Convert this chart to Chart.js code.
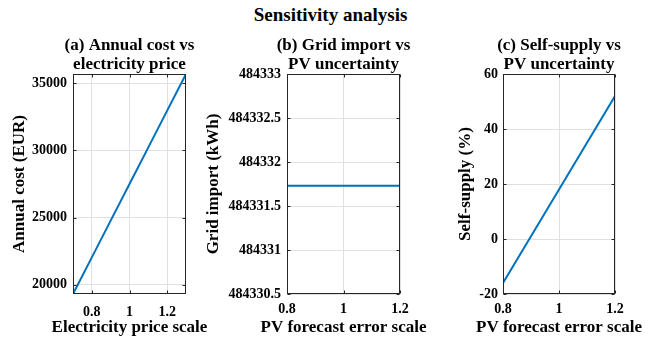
<!DOCTYPE html>
<html>
<head>
<meta charset="utf-8">
<title>Sensitivity analysis</title>
<script src="https://cdn.jsdelivr.net/npm/chart.js@4.4.1/dist/chart.umd.min.js"></script>
<style>
  html, body { margin: 0; padding: 0; background: #fff; overflow: hidden; }
  #page { position: relative; width: 649px; height: 343px; overflow: hidden; }
  #mainTitle {
    position: absolute; left: 6px; top: 5px; width: 649px;
    text-align: center; font-family: 'Liberation Serif', 'Times New Roman', serif;
    font-weight: bold; font-size: 19px; line-height: 19px;
  }
  .panel { position: absolute; }
</style>
</head>
<body>
<div id="page">
  <div id="mainTitle">Sensitivity analysis</div>
  <div class="panel" style="left:0px;top:34px;width:259px;height:309px"><canvas id="chartA"></canvas></div>
  <div class="panel" style="left:200px;top:34px;width:287px;height:309px"><canvas id="chartB"></canvas></div>
  <div class="panel" style="left:440px;top:34px;width:238px;height:309px"><canvas id="chartC"></canvas></div>
</div>
<script>
// (a) annual cost vs electricity price scale
const priceScale = [0.7, 0.8, 0.9, 1.0, 1.1, 1.2, 1.3];
const annualCost = [19310, 22040, 24770, 27500, 30230, 32960, 35690];
const costTicks = [20000, 25000, 30000, 35000];
const priceTicks = [0.8, 1, 1.2];

// (b) grid import vs PV forecast error scale
const pvScale = [0.8, 0.9, 1.0, 1.1, 1.2];
const gridImport = [484331.73, 484331.73, 484331.73, 484331.73, 484331.73];
const importTicks = [484330.5, 484331, 484331.5, 484332, 484332.5, 484333];

// (c) self-supply vs PV forecast error scale
const selfSupply = [-16, 1, 18, 35, 52];
const supplyTicks = [-20, 0, 20, 40, 60];
const pvTicks = [0.8, 1, 1.2];

const lineColor = '#0072BD';
const gridColor = '#e0e0e0';
const axisColor = '#262626';
const serif = "'Liberation Serif', 'Times New Roman', serif";

Chart.defaults.font.family = serif;
Chart.defaults.font.weight = 'bold';
Chart.defaults.color = '#000';

// MATLAB style box with small inward ticks
const boxPlugin = {
    id: 'box',
    afterDraw(chart) {
        const ctx = chart.ctx;
        const a = chart.chartArea;
        const l = Math.round(a.left) + 0.5, r = Math.round(a.right) - 0.5;
        const t = Math.round(a.top) + 0.5, b = Math.round(a.bottom) - 0.5;
        ctx.save();
        ctx.strokeStyle = axisColor;
        ctx.lineWidth = 1;
        ctx.strokeRect(l, t, r - l, b - t);
        ctx.beginPath();
        chart.scales.x.ticks.forEach(tk => {
            const px = Math.round(chart.scales.x.getPixelForValue(tk.value)) + 0.5;
            ctx.moveTo(px, b); ctx.lineTo(px, b - 3);
            ctx.moveTo(px, t); ctx.lineTo(px, t + 3);
        });
        chart.scales.y.ticks.forEach(tk => {
            const py = Math.round(chart.scales.y.getPixelForValue(tk.value)) + 0.5;
            ctx.moveTo(l, py); ctx.lineTo(l + 3, py);
            ctx.moveTo(r, py); ctx.lineTo(r - 3, py);
        });
        ctx.stroke();
        ctx.restore();
    }
};

function makePanel(id, cfg) {
    return new Chart(document.getElementById(id), {
        type: 'line',
        data: {
            datasets: [{
                data: cfg.xs.map((x, i) => ({ x: x, y: cfg.ys[i] })),
                borderColor: lineColor,
                borderWidth: 2,
                pointRadius: 0,
                tension: 0,
                fill: false
            }]
        },
        options: {
            responsive: true,
            maintainAspectRatio: false,
            animation: false,
            devicePixelRatio: 1,
            layout: { padding: 0 },
            plugins: {
                legend: { display: false },
                tooltip: { enabled: false },
                title: {
                    display: true,
                    text: cfg.title,
                    font: { size: 17, weight: 'bold', lineHeight: 19 / 17 },
                    padding: { top: 2, bottom: 0 },
                    color: '#000'
                },
                // x axis label drawn as a bottom subtitle so it is not squeezed to the plot width
                subtitle: {
                    display: true,
                    position: 'bottom',
                    text: cfg.xLabel,
                    font: { size: 17, weight: 'bold', lineHeight: 1.2 },
                    padding: { top: 0, bottom: 5 },
                    color: '#000'
                }
            },
            scales: {
                x: {
                    type: 'linear',
                    bounds: 'data',
                    min: cfg.xMin,
                    max: cfg.xMax,
                    afterBuildTicks: s => { s.ticks = cfg.xTicks.map(v => ({ value: v })); },
                    // right padding keeps the canvas centred on the plot so the titles line up
                    afterFit: s => { s.height = 23.6; s.paddingLeft = 0; s.paddingRight = cfg.padRight; },
                    ticks: {
                        padding: cfg.xTickPad,
                        font: { size: 14, weight: 'bold' },
                        maxRotation: 0,
                        autoSkip: false,
                        callback: v => String(v)
                    },
                    grid: { color: gridColor, drawTicks: false },
                    border: { display: false }
                },
                y: {
                    type: 'linear',
                    bounds: 'data',
                    min: cfg.yMin,
                    max: cfg.yMax,
                    afterBuildTicks: s => { s.ticks = cfg.yTicks.map(v => ({ value: v })); },
                    afterFit: s => { s.width = cfg.yWidth; s.paddingTop = 0; s.paddingBottom = 0; },
                    ticks: {
                        padding: cfg.yTickPad,
                        font: { size: 14, weight: 'bold' },
                        autoSkip: false,
                        callback: v => String(v)
                    },
                    grid: { color: gridColor, drawTicks: false },
                    border: { display: false },
                    title: {
                        display: true,
                        text: cfg.yLabel,
                        font: { size: 17, weight: 'bold' },
                        padding: { top: cfg.yTitlePad, bottom: 0 }
                    }
                }
            }
        },
        plugins: [boxPlugin]
    });
}

makePanel('chartA', {
    xs: priceScale, ys: annualCost,
    xMin: 0.7, xMax: 1.3, yMin: 19310, yMax: 35690,
    xTicks: priceTicks, yTicks: costTicks,
    title: ['(a) Annual cost vs', 'electricity price'],
    xLabel: 'Electricity price scale', yLabel: 'Annual cost (EUR)',
    yWidth: 73, padRight: 73, yTitlePad: 9, xTickPad: 10, yTickPad: 6
});

makePanel('chartB', {
    xs: pvScale, ys: gridImport,
    xMin: 0.8, xMax: 1.2, yMin: 484330.5, yMax: 484333,
    xTicks: pvTicks, yTicks: importTicks,
    title: ['(b) Grid import vs', 'PV uncertainty'],
    xLabel: 'PV forecast error scale', yLabel: 'Grid import (kWh)',
    yWidth: 87, padRight: 87, yTitlePad: 3, xTickPad: 7, yTickPad: 6
});

makePanel('chartC', {
    xs: pvScale, ys: selfSupply,
    xMin: 0.8, xMax: 1.2, yMin: -20, yMax: 60,
    xTicks: pvTicks, yTicks: supplyTicks,
    title: ['(c) Self-supply vs', 'PV uncertainty'],
    xLabel: 'PV forecast error scale', yLabel: 'Self-supply (%)',
    yWidth: 63, padRight: 63, yTitlePad: 15, xTickPad: 7, yTickPad: 5
});
</script>
</body>
</html>
